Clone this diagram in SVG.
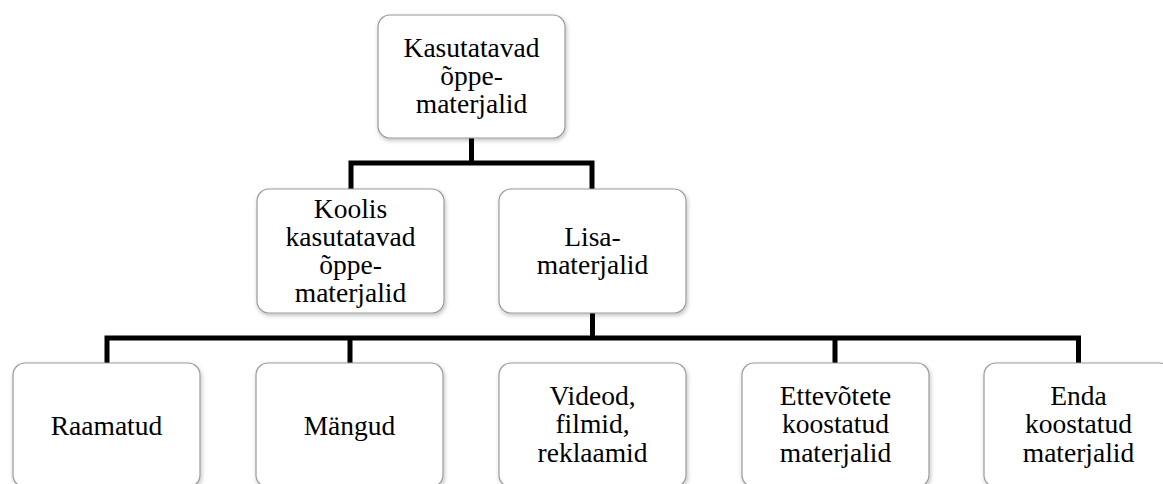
<svg xmlns="http://www.w3.org/2000/svg" width="1163" height="484" viewBox="0 0 1163 484">
<defs>
<filter id="sh" x="-10%" y="-10%" width="125%" height="130%">
<feDropShadow dx="1" dy="2" stdDeviation="2" flood-color="#000" flood-opacity="0.25"/>
</filter>
<style>
.box{fill:#fff;stroke:#9a9a9a;stroke-width:1.2;filter:url(#sh)}
.t{font-size:27.5px;fill:#000;text-anchor:middle}
.c{fill:none;stroke:#000;stroke-width:5;stroke-linejoin:miter}
</style>
</defs>
<rect width="1163" height="484" fill="#fff"/>
<g id="connectors">
<path class="c" d="M471.5,138 V163 M351,190 V163 H592 V190"/>
<path class="c" d="M592.5,313 V338 M107,363 V338 H1078.5 V363 M350,338 V363 M835,338 V363"/>
</g>
<g font-family="Liberation Serif, Times New Roman, DejaVu Serif, serif">
<g id="n-top">
<rect class="box" x="378" y="15" width="187" height="123" rx="12"/>
<text class="t" x="471.5" y="57">Kasutatavad</text>
<text class="t" x="471.5" y="85">õppe-</text>
<text class="t" x="471.5" y="113">materjalid</text>
</g>
<g id="n-koolis">
<rect class="box" x="257" y="189" width="187" height="124" rx="12"/>
<text class="t" x="350.5" y="218">Koolis</text>
<text class="t" x="350.5" y="246">kasutatavad</text>
<text class="t" x="350.5" y="274">õppe-</text>
<text class="t" x="350.5" y="302">materjalid</text>
</g>
<g id="n-lisa">
<rect class="box" x="499" y="189" width="187" height="124" rx="12"/>
<text class="t" x="592.5" y="246">Lisa-</text>
<text class="t" x="592.5" y="274">materjalid</text>
</g>
<g id="n-raamatud">
<rect class="box" x="13" y="363" width="187" height="124" rx="12"/>
<text class="t" x="106.5" y="435">Raamatud</text>
</g>
<g id="n-mangud">
<rect class="box" x="256" y="363" width="187" height="124" rx="12"/>
<text class="t" x="349.5" y="435">Mängud</text>
</g>
<g id="n-videod">
<rect class="box" x="499" y="363" width="187" height="124" rx="12"/>
<text class="t" x="592.5" y="405">Videod,</text>
<text class="t" x="592.5" y="433">filmid,</text>
<text class="t" x="592.5" y="462">reklaamid</text>
</g>
<g id="n-ettevotete">
<rect class="box" x="742" y="363" width="187" height="124" rx="12"/>
<text class="t" x="835.5" y="405">Ettevõtete</text>
<text class="t" x="835.5" y="433">koostatud</text>
<text class="t" x="835.5" y="462">materjalid</text>
</g>
<g id="n-enda">
<rect class="box" x="984" y="363" width="187" height="124" rx="12"/>
<text class="t" x="1078.5" y="405">Enda</text>
<text class="t" x="1078.5" y="433">koostatud</text>
<text class="t" x="1078.5" y="462">materjalid</text>
</g>
</g>
</svg>
